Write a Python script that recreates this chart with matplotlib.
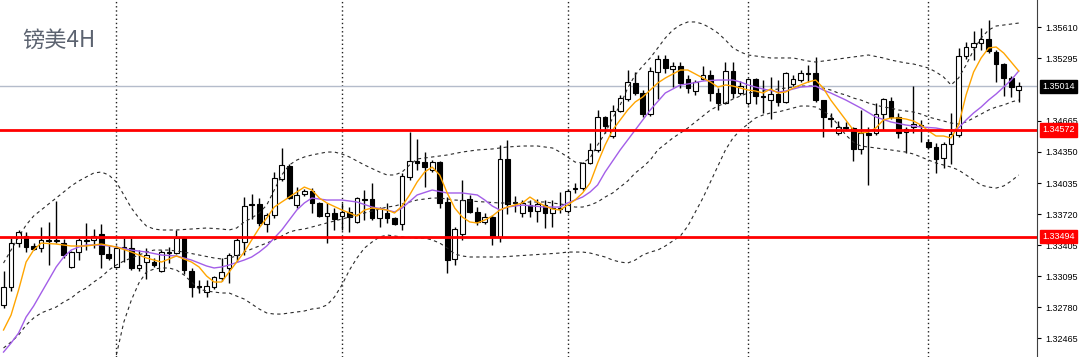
import matplotlib
matplotlib.use("Agg")
import matplotlib.pyplot as plt

# GBPUSD 4H candles
opens = [1.32802, 1.32984, 1.33429, 1.33500, 1.33399, 1.33379, 1.33460, 1.33450, 1.33429, 1.33187,
         1.33338, 1.33460, 1.33460, 1.33520, 1.33318, 1.33187, 1.33379, 1.33379, 1.33177, 1.33237,
         1.33237, 1.33146, 1.33328, 1.33328, 1.33480, 1.33146, 1.32994, 1.32934, 1.32984, 1.33075,
         1.33177, 1.33308, 1.33439, 1.33824, 1.33824, 1.33622, 1.33712, 1.34076, 1.34208, 1.33813,
         1.33925, 1.33955, 1.33834, 1.33702, 1.33733, 1.33702, 1.33743, 1.33642, 1.33874, 1.33874,
         1.33682, 1.33733, 1.33682, 1.33622, 1.34097, 1.34258, 1.34248, 1.34167, 1.34248, 1.33844,
         1.33267, 1.33520, 1.33874, 1.33743, 1.33642, 1.33692, 1.33490, 1.34279, 1.33844, 1.33733,
         1.33813, 1.33753, 1.33813, 1.33733, 1.33773, 1.33753, 1.33975, 1.33985, 1.34238, 1.34370,
         1.34703, 1.34511, 1.34764, 1.34885, 1.35047, 1.34946, 1.34733, 1.35158, 1.35290, 1.35188,
         1.35219, 1.35087, 1.34966, 1.35087, 1.35128, 1.34946, 1.34845, 1.35168, 1.34946, 1.34845,
         1.35087, 1.34916, 1.34875, 1.34936, 1.34855, 1.35037, 1.35077, 1.35148, 1.35148, 1.34875,
         1.34693, 1.34541, 1.34602, 1.34592, 1.34380, 1.34541, 1.34541, 1.34733, 1.34865, 1.34703,
         1.34551, 1.34602, 1.34622, 1.34450, 1.34400, 1.34289, 1.34430, 1.34521, 1.35320, 1.35411,
         1.35451, 1.35492, 1.35360, 1.35239, 1.35097, 1.34976]
highs = [1.33146, 1.33480, 1.33561, 1.33540, 1.33429, 1.33591, 1.33642, 1.33854, 1.33470, 1.33348,
         1.33480, 1.33632, 1.33571, 1.33622, 1.33409, 1.33409, 1.33480, 1.33480, 1.33358, 1.33379,
         1.33278, 1.33358, 1.33389, 1.33561, 1.33490, 1.33177, 1.33055, 1.33055, 1.33096, 1.33278,
         1.33328, 1.33480, 1.33894, 1.33925, 1.33884, 1.33733, 1.34147, 1.34390, 1.34228, 1.33995,
         1.33975, 1.33985, 1.33844, 1.33834, 1.33783, 1.33834, 1.33793, 1.33894, 1.33965, 1.34036,
         1.33793, 1.33834, 1.33692, 1.34137, 1.34551, 1.34481, 1.34349, 1.34268, 1.34258, 1.33894,
         1.33591, 1.34066, 1.33915, 1.33793, 1.33733, 1.33712, 1.34420, 1.34471, 1.33905, 1.33864,
         1.33864, 1.33874, 1.33864, 1.33864, 1.33945, 1.33975, 1.34036, 1.34248, 1.34440, 1.34774,
         1.34713, 1.34824, 1.34926, 1.35178, 1.35158, 1.34976, 1.35209, 1.35330, 1.35330, 1.35259,
         1.35259, 1.35128, 1.35077, 1.35219, 1.35178, 1.34996, 1.35259, 1.35259, 1.35067, 1.35097,
         1.35097, 1.35077, 1.35108, 1.35077, 1.35158, 1.35128, 1.35178, 1.35229, 1.35310, 1.34875,
         1.34744, 1.34663, 1.34653, 1.34602, 1.34774, 1.34602, 1.34845, 1.34895, 1.34905, 1.34744,
         1.34602, 1.35016, 1.34673, 1.34481, 1.34440, 1.34450, 1.34744, 1.35401, 1.35461, 1.35573,
         1.35603, 1.35684, 1.35380, 1.35249, 1.35118, 1.35057]
lows = [1.32772, 1.32944, 1.33389, 1.33338, 1.33358, 1.33338, 1.33207, 1.33429, 1.33278, 1.33177,
        1.33257, 1.33358, 1.33379, 1.33177, 1.33257, 1.33177, 1.33237, 1.33156, 1.33146, 1.33065,
        1.33187, 1.33136, 1.33227, 1.33318, 1.33116, 1.32883, 1.32924, 1.32883, 1.32964, 1.33045,
        1.33025, 1.33237, 1.33308, 1.33672, 1.33601, 1.33540, 1.33682, 1.34056, 1.33874, 1.33783,
        1.33905, 1.33733, 1.33692, 1.33429, 1.33561, 1.33561, 1.33540, 1.33632, 1.33662, 1.33662,
        1.33591, 1.33632, 1.33611, 1.33561, 1.34066, 1.34167, 1.33995, 1.34147, 1.33783, 1.33126,
        1.33207, 1.33460, 1.33733, 1.33611, 1.33622, 1.33409, 1.33439, 1.33722, 1.33743, 1.33692,
        1.33692, 1.33642, 1.33581, 1.33591, 1.33733, 1.33733, 1.33935, 1.33965, 1.34228, 1.34349,
        1.34541, 1.34491, 1.34754, 1.34865, 1.34926, 1.34703, 1.34713, 1.34885, 1.35148, 1.35006,
        1.34996, 1.34946, 1.34926, 1.35077, 1.34865, 1.34774, 1.34834, 1.34895, 1.34926, 1.34824,
        1.34834, 1.34744, 1.34683, 1.34814, 1.34845, 1.35016, 1.35057, 1.35057, 1.34855, 1.34501,
        1.34602, 1.34521, 1.34572, 1.34258, 1.34329, 1.34015, 1.34521, 1.34572, 1.34683, 1.34491,
        1.34339, 1.34541, 1.34450, 1.34380, 1.34137, 1.34187, 1.34228, 1.34501, 1.35290, 1.35279,
        1.35380, 1.35350, 1.35057, 1.34916, 1.34905, 1.34855]
closes = [1.32984, 1.33429, 1.33540, 1.33389, 1.33369, 1.33460, 1.33450, 1.33460, 1.33308, 1.33338,
          1.33460, 1.33450, 1.33500, 1.33318, 1.33278, 1.33379, 1.33389, 1.33177, 1.33207, 1.33308,
          1.33207, 1.33338, 1.33338, 1.33480, 1.33156, 1.32984, 1.32984, 1.32994, 1.33086, 1.33136,
          1.33308, 1.33460, 1.33803, 1.33813, 1.33632, 1.33712, 1.34086, 1.34218, 1.33884, 1.33915,
          1.33955, 1.33834, 1.33702, 1.33733, 1.33672, 1.33743, 1.33692, 1.33884, 1.33864, 1.33682,
          1.33783, 1.33682, 1.33622, 1.34107, 1.34258, 1.34238, 1.34197, 1.34248, 1.33834, 1.33257,
          1.33571, 1.33864, 1.33743, 1.33642, 1.33692, 1.33490, 1.34279, 1.33824, 1.33834, 1.33834,
          1.33753, 1.33824, 1.33733, 1.33783, 1.33783, 1.33955, 1.33985, 1.34238, 1.34370, 1.34703,
          1.34612, 1.34764, 1.34895, 1.35057, 1.34946, 1.34733, 1.35168, 1.35290, 1.35198, 1.35219,
          1.35047, 1.34996, 1.35057, 1.35128, 1.34946, 1.34845, 1.35168, 1.34946, 1.35016, 1.35087,
          1.34916, 1.34905, 1.34936, 1.34855, 1.35148, 1.35087, 1.35148, 1.35138, 1.34875, 1.34703,
          1.34683, 1.34602, 1.34592, 1.34380, 1.34541, 1.34521, 1.34733, 1.34885, 1.34703, 1.34541,
          1.34582, 1.34632, 1.34612, 1.34400, 1.34279, 1.34430, 1.34531, 1.35320, 1.35411, 1.35451,
          1.35492, 1.35370, 1.35239, 1.35097, 1.35006, 1.35014]

# fast MA (orange)
fast_x = [0, 1, 2, 3, 4, 5, 7, 9, 11, 13, 15, 17, 19, 21, 23, 25, 26, 27, 28, 29, 30, 31, 32, 33, 34,
          35, 36, 37, 38, 39, 40, 41, 42, 43, 45, 47, 48, 49, 51, 52, 53, 54, 55, 56, 57, 58, 59, 60,
          61, 62, 63, 64, 65, 66, 67, 69, 70, 71, 72, 73, 74, 75, 76, 77, 78, 79, 80, 81, 82, 83, 84,
          85, 86, 87, 88, 89, 90, 91, 92, 93, 94, 95, 96, 97, 98, 99, 100, 101, 102, 103, 104, 105,
          106, 107, 108, 109, 110, 111, 112, 113, 114, 115, 116, 117, 118, 119, 120, 121, 122, 123,
          124, 125, 126, 127, 128, 129, 130, 131, 132, 133, 134, 135]
fast_y = [1.32550, 1.32701, 1.32954, 1.33237, 1.33358, 1.33429, 1.33419, 1.33399, 1.33399, 1.33419,
          1.33389, 1.33338, 1.33278, 1.33237, 1.33298, 1.33237, 1.33187, 1.33096, 1.33035, 1.33035,
          1.33136, 1.33237, 1.33338, 1.33460, 1.33581, 1.33682, 1.33793, 1.33844, 1.33894, 1.33945,
          1.33995, 1.33965, 1.33884, 1.33834, 1.33763, 1.33702, 1.33763, 1.33783, 1.33763, 1.33733,
          1.33803, 1.33915, 1.34046, 1.34147, 1.34197, 1.34117, 1.33935, 1.33783, 1.33692, 1.33642,
          1.33632, 1.33662, 1.33702, 1.33763, 1.33793, 1.33834, 1.33894, 1.33844, 1.33803, 1.33773,
          1.33763, 1.33813, 1.33864, 1.33935, 1.34036, 1.34238, 1.34420, 1.34572, 1.34673, 1.34774,
          1.34855, 1.34905, 1.34976, 1.35047, 1.35097, 1.35138, 1.35178, 1.35178, 1.35138, 1.35097,
          1.35057, 1.35006, 1.35027, 1.35016, 1.34996, 1.34976, 1.34966, 1.34946, 1.34986, 1.34946,
          1.34956, 1.34996, 1.35027, 1.35057, 1.35077, 1.34996, 1.34875, 1.34774, 1.34673, 1.34572,
          1.34541, 1.34551, 1.34592, 1.34673, 1.34693, 1.34693, 1.34683, 1.34663, 1.34622, 1.34562,
          1.34511, 1.34511, 1.34491, 1.34622, 1.34926, 1.35158, 1.35300, 1.35401, 1.35411, 1.35350,
          1.35259, 1.35168]

# slow MA (purple)
slow_x = [0, 1, 2, 3, 4, 5, 6, 7, 8, 9, 10, 11, 13, 15, 17, 19, 21, 23, 25, 26, 27, 28, 29, 30, 32,
          33, 34, 35, 36, 37, 38, 39, 40, 41, 42, 43, 45, 47, 49, 51, 52, 53, 55, 57, 59, 61, 63, 64,
          65, 66, 67, 69, 72, 74, 75, 77, 78, 79, 80, 82, 84, 86, 88, 90, 91, 93, 95, 97, 98, 99, 100,
          101, 103, 104, 106, 108, 109, 110, 112, 114, 116, 118, 120, 122, 124, 126, 127, 128, 129,
          130, 131, 132, 133, 134, 135]
slow_y = [1.32327, 1.32418, 1.32519, 1.32681, 1.32792, 1.32924, 1.33055, 1.33187, 1.33288, 1.33358,
          1.33389, 1.33409, 1.33409, 1.33389, 1.33358, 1.33338, 1.33308, 1.33298, 1.33257, 1.33227,
          1.33197, 1.33177, 1.33187, 1.33207, 1.33257, 1.33288, 1.33338, 1.33399, 1.33480, 1.33561,
          1.33662, 1.33763, 1.33834, 1.33884, 1.33874, 1.33864, 1.33864, 1.33844, 1.33793, 1.33763,
          1.33743, 1.33783, 1.33915, 1.33965, 1.33935, 1.33935, 1.33915, 1.33864, 1.33803, 1.33763,
          1.33793, 1.33813, 1.33793, 1.33793, 1.33834, 1.33894, 1.33945, 1.34016, 1.34147, 1.34370,
          1.34572, 1.34774, 1.34946, 1.35027, 1.35037, 1.35067, 1.35077, 1.35077, 1.35057, 1.35027,
          1.35006, 1.34986, 1.34956, 1.34966, 1.35006, 1.35016, 1.34976, 1.34946, 1.34875, 1.34794,
          1.34703, 1.34653, 1.34622, 1.34602, 1.34592, 1.34562, 1.34592, 1.34673, 1.34744, 1.34804,
          1.34875, 1.34936, 1.35006, 1.35077, 1.35168]

# Bollinger bands (dashed)
upper_x = [0, 1, 2, 3, 4, 5, 6, 7, 8, 9, 10, 11, 12, 13, 14, 15, 16, 17, 18, 19, 20, 21, 23, 25, 27,
           29, 30, 31, 32, 33, 34, 35, 36, 37, 38, 39, 40, 41, 43, 44, 45, 46, 48, 50, 51, 52, 53,
           54, 55, 57, 59, 61, 63, 65, 67, 69, 71, 73, 74, 75, 76, 77, 78, 79, 80, 81, 82, 83, 84,
           85, 86, 87, 88, 89, 90, 91, 92, 93, 94, 95, 96, 97, 98, 99, 100, 102, 105, 107, 108, 110,
           112, 114, 115, 117, 118, 120, 121, 122, 123, 124, 125, 126, 127, 128, 129, 130, 131, 132,
           133, 134, 135]
upper_y = [1.33227, 1.33358, 1.33490, 1.33611, 1.33702, 1.33763, 1.33824, 1.33884, 1.33945, 1.34006,
           1.34056, 1.34097, 1.34137, 1.34147, 1.34117, 1.34046, 1.33915, 1.33783, 1.33682, 1.33601,
           1.33571, 1.33561, 1.33561, 1.33571, 1.33581, 1.33571, 1.33561, 1.33581, 1.33642, 1.33682,
           1.33733, 1.33813, 1.33965, 1.34117, 1.34218, 1.34268, 1.34299, 1.34319, 1.34349, 1.34349,
           1.34329, 1.34299, 1.34218, 1.34147, 1.34117, 1.34117, 1.34147, 1.34218, 1.34279, 1.34299,
           1.34319, 1.34349, 1.34370, 1.34380, 1.34400, 1.34410, 1.34410, 1.34390, 1.34349, 1.34299,
           1.34248, 1.34238, 1.34289, 1.34420, 1.34541, 1.34693, 1.34824, 1.34996, 1.35128, 1.35219,
           1.35300, 1.35401, 1.35502, 1.35583, 1.35633, 1.35664, 1.35664, 1.35643, 1.35603, 1.35552,
           1.35482, 1.35401, 1.35360, 1.35330, 1.35320, 1.35300, 1.35300, 1.35269, 1.35259, 1.35279,
           1.35300, 1.35320, 1.35330, 1.35300, 1.35279, 1.35249, 1.35239, 1.35219, 1.35198, 1.35158,
           1.35108, 1.35027, 1.35097, 1.35229, 1.35380, 1.35502, 1.35583, 1.35623, 1.35633, 1.35643,
           1.35653]
mid_x = [0, 1, 2, 3, 4, 5, 6, 7, 8, 9, 10, 11, 12, 13, 14, 15, 16, 17, 18, 19, 20, 22, 24, 26, 28,
         29, 30, 31, 32, 33, 34, 35, 36, 37, 38, 39, 40, 41, 42, 43, 44, 45, 46, 47, 48, 49, 50, 51,
         52, 53, 54, 55, 56, 57, 58, 59, 60, 62, 64, 66, 68, 70, 72, 74, 75, 76, 77, 78, 79, 80, 81,
         82, 83, 84, 85, 86, 87, 88, 89, 90, 91, 92, 93, 94, 95, 96, 97, 98, 99, 100, 101, 102, 103,
         104, 105, 106, 108, 109, 110, 111, 112, 113, 114, 115, 116, 117, 118, 119, 120, 121, 122,
         123, 124, 125, 126, 127, 128, 129, 130, 131, 132, 133, 134, 135]
mid_y = [1.32368, 1.32428, 1.32499, 1.32600, 1.32671, 1.32722, 1.32752, 1.32782, 1.32833, 1.32873,
         1.32934, 1.32974, 1.33035, 1.33086, 1.33156, 1.33207, 1.33247, 1.33278, 1.33308, 1.33338,
         1.33358, 1.33358, 1.33338, 1.33308, 1.33278, 1.33268, 1.33278, 1.33298, 1.33338, 1.33369,
         1.33399, 1.33429, 1.33460, 1.33500, 1.33540, 1.33561, 1.33571, 1.33591, 1.33611, 1.33632,
         1.33652, 1.33672, 1.33692, 1.33712, 1.33733, 1.33753, 1.33773, 1.33793, 1.33803, 1.33824,
         1.33844, 1.33864, 1.33874, 1.33884, 1.33884, 1.33874, 1.33864, 1.33854, 1.33844, 1.33834,
         1.33834, 1.33844, 1.33844, 1.33824, 1.33813, 1.33793, 1.33793, 1.33813, 1.33844, 1.33894,
         1.33935, 1.33995, 1.34056, 1.34137, 1.34197, 1.34268, 1.34370, 1.34430, 1.34491, 1.34541,
         1.34592, 1.34653, 1.34713, 1.34774, 1.34814, 1.34845, 1.34885, 1.34916, 1.34946, 1.34956,
         1.34966, 1.34976, 1.34986, 1.34996, 1.35006, 1.35016, 1.35016, 1.34996, 1.34976, 1.34946,
         1.34926, 1.34895, 1.34875, 1.34845, 1.34824, 1.34804, 1.34794, 1.34774, 1.34764, 1.34754,
         1.34733, 1.34703, 1.34683, 1.34663, 1.34642, 1.34632, 1.34653, 1.34693, 1.34733, 1.34774,
         1.34804, 1.34824, 1.34855, 1.34875]
lower_x = [15, 16, 17, 18, 19, 20, 21, 22, 23, 24, 25, 26, 27, 28, 29, 30, 31, 32, 33, 34, 35, 36, 37,
           38, 39, 40, 41, 42, 43, 44, 45, 46, 47, 48, 49, 50, 51, 52, 53, 55, 56, 57, 58, 59, 60, 61,
           62, 64, 66, 68, 70, 72, 74, 75, 77, 78, 79, 80, 81, 82, 83, 84, 85, 86, 87, 88, 89, 90, 91,
           92, 93, 94, 95, 96, 97, 98, 99, 100, 101, 102, 103, 104, 105, 106, 107, 108, 109, 110, 111,
           112, 113, 114, 115, 116, 117, 118, 119, 120, 121, 122, 123, 124, 125, 126, 127, 128, 129,
           130, 131, 132, 133, 134, 135]
lower_y = [1.32297, 1.32631, 1.32853, 1.33025, 1.33136, 1.33166, 1.33177, 1.33177, 1.33156, 1.33106,
           1.33035, 1.32964, 1.32944, 1.32934, 1.32924, 1.32924, 1.32893, 1.32863, 1.32813, 1.32762,
           1.32722, 1.32711, 1.32711, 1.32722, 1.32732, 1.32742, 1.32762, 1.32772, 1.32802, 1.32883,
           1.33005, 1.33156, 1.33278, 1.33379, 1.33439, 1.33490, 1.33510, 1.33500, 1.33490, 1.33480,
           1.33480, 1.33460, 1.33429, 1.33379, 1.33318, 1.33298, 1.33288, 1.33288, 1.33288, 1.33298,
           1.33308, 1.33318, 1.33328, 1.33338, 1.33338, 1.33328, 1.33308, 1.33288, 1.33257, 1.33237,
           1.33227, 1.33257, 1.33308, 1.33338, 1.33358, 1.33399, 1.33450, 1.33500, 1.33601, 1.33743,
           1.33884, 1.34046, 1.34208, 1.34370, 1.34491, 1.34572, 1.34632, 1.34693, 1.34723, 1.34744,
           1.34754, 1.34774, 1.34794, 1.34814, 1.34814, 1.34804, 1.34764, 1.34713, 1.34622, 1.34521,
           1.34450, 1.34410, 1.34400, 1.34390, 1.34380, 1.34370, 1.34359, 1.34349, 1.34329, 1.34299,
           1.34268, 1.34238, 1.34218, 1.34197, 1.34167, 1.34117, 1.34066, 1.34015, 1.33995, 1.33985,
           1.34006, 1.34056, 1.34117]

day_bars = [15, 45, 75, 99, 123]
support_levels = [1.34572, 1.33494]
last_price = 1.35014
tick_prices = [1.35610, 1.35295, 1.34665, 1.34350, 1.34035, 1.33720, 1.33405, 1.33095, 1.32780, 1.32465]

fig = plt.figure(figsize=(10.8, 3.57), dpi=100)
ax = fig.add_axes([0, 0, 1037 / 1080, 1])
ax.set_xlim(-0.47, 137.43)
ax.set_ylim(1.32277, 1.35886)

for d in day_bars:
    ax.axvline(d, color="#202020", lw=1, ls=(0, (1, 2)), zorder=1)
ax.axhline(last_price, color="#b4bccb", lw=1, zorder=1.5)

xs = list(range(len(opens)))
ax.vlines(xs, lows, highs, color="black", lw=1, zorder=2)
bottoms = [min(o, c) for o, c in zip(opens, closes)]
heights = [abs(c - o) for o, c in zip(opens, closes)]
faces = ["white" if c >= o else "black" for o, c in zip(opens, closes)]
ax.bar(xs, heights, bottom=bottoms, width=0.62, color=faces, edgecolor="black",
       linewidth=0.8, zorder=3)

for bx, by in [(upper_x, upper_y), (mid_x, mid_y), (lower_x, lower_y)]:
    ax.plot(bx, by, color="#2a2a2a", lw=0.8, ls=(0, (3, 3)), zorder=4)
ax.plot(slow_x, slow_y, color="#a35ee8", lw=1, zorder=5)
ax.plot(fast_x, fast_y, color="#ffa500", lw=1, zorder=5)

for lvl in support_levels:
    ax.axhline(lvl, color="#ff0000", lw=2, zorder=6)

for s in ["left", "top", "bottom"]:
    ax.spines[s].set_visible(False)
ax.spines["right"].set_color("#404040")
ax.set_xticks([])
ax.yaxis.tick_right()
ax.set_yticks(tick_prices)
ax.set_yticklabels(["%.5f" % p for p in tick_prices])
ax.tick_params(axis="y", direction="out", length=3, pad=3, labelsize=6.5, colors="black")
for lbl in ax.get_yticklabels():
    lbl.set_family("Liberation Sans")

for p, col in [(last_price, "black"), (support_levels[0], "red"), (support_levels[1], "red")]:
    ax.text(1 + 5 / 1037, p, "%.5f" % p, transform=ax.get_yaxis_transform(), ha="left",
            va="center", fontsize=6.5, color="white", family="Liberation Sans",
            bbox=dict(boxstyle="square,pad=0.25", fc=col, ec=col), clip_on=False, zorder=10)

fig.text(22 / 1080, 1 - 47 / 357, "镑美4H", fontsize=16, color="#5c6370",
         family=["Noto Sans CJK SC", "DejaVu Sans"], va="baseline")

fig.savefig("out.png", dpi=100)
